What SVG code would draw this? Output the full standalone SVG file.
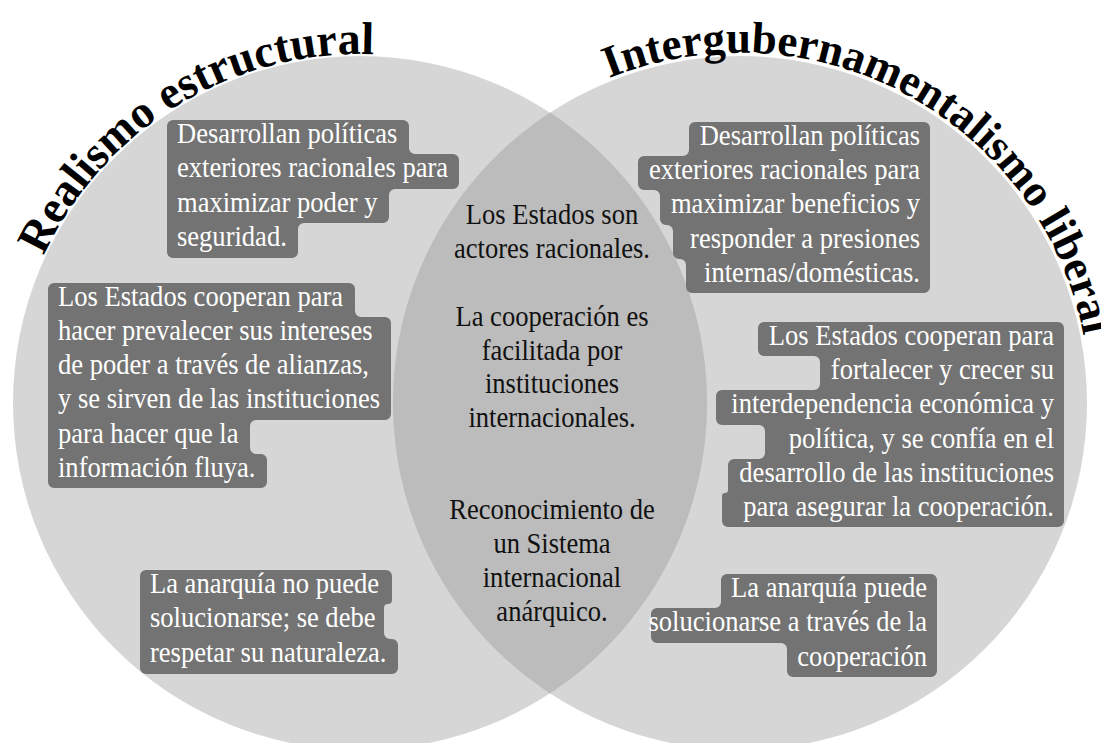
<svg xmlns="http://www.w3.org/2000/svg" width="1101" height="743" viewBox="0 0 1101 743">
<defs>
<style>
.circle{fill:#d6d6d6}
.lens{fill:#bcbcbc}
.box{fill:#737373}
.bt{font-family:"Liberation Serif","Times New Roman",serif;font-size:29.5px;fill:#ffffff}
.bt-r{text-anchor:end}
.lt{font-family:"Liberation Serif","Times New Roman",serif;font-size:29.5px;fill:#111111;text-anchor:middle}
.title{font-family:"Liberation Serif","Times New Roman",serif;font-weight:bold;fill:#000000}
</style>
<path id="arcL" d="M11.1,411.5 A349,349 0 0 1 527.1,96.6" fill="none"/>
<path id="arcR" d="M448.1,209.8 A350,350 0 0 1 1061,542.5" fill="none"/>
</defs>
<rect width="1101" height="743" fill="#ffffff"/>
<g id="venn">
<circle id="circle-left" class="circle" cx="360" cy="403" r="347"/>
<circle id="circle-right" class="circle" cx="740" cy="403" r="347"/>
<path id="lens" class="lens" d="M550,112.6 A347,347 0 0 1 550,693.4 A347,347 0 0 1 550,112.6 Z"/>
</g>
<g id="title-left">
<text class="title" font-size="46"><textPath href="#arcL" startOffset="50%" text-anchor="middle">Realismo estructural</textPath></text>
</g>
<g id="title-right">
<text class="title" font-size="45"><textPath href="#arcR" startOffset="50%" text-anchor="middle">Intergubernamentalismo liberal</textPath></text>
</g>
<g id="node-left-1">
<path class="box" d="M173,120 H403 A6,6 0 0 1 409,126 V148 A6,6 0 0 0 415,154 H453 A6,6 0 0 1 459,160 V183 A6,6 0 0 1 453,189 H395 A6,6 0 0 0 389,195 V217 A6,6 0 0 1 383,223 H304 A6,6 0 0 0 298,229 V252 A6,6 0 0 1 292,258 H173 A6,6 0 0 1 167,252 V126 A6,6 0 0 1 173,120 Z"/>
<text class="bt" transform="translate(177,0) scale(0.9,1)"><tspan x="0" y="143">Desarrollan políticas</tspan><tspan x="0" y="177">exteriores racionales para</tspan><tspan x="0" y="212">maximizar poder y</tspan><tspan x="0" y="246">seguridad.</tspan></text>
</g>
<g id="node-left-2">
<path class="box" d="M54,283 H349 A6,6 0 0 1 355,289 V311 A6,6 0 0 0 361,317 H385 A6,6 0 0 1 391,323 V414 A6,6 0 0 1 385,420 H256 A6,6 0 0 0 250,426 V448 A6,6 0 0 0 256,454 H261 A6,6 0 0 1 267,460 V482 A6,6 0 0 1 261,488 H54 A6,6 0 0 1 48,482 V289 A6,6 0 0 1 54,283 Z"/>
<text class="bt" transform="translate(58,0) scale(0.9,1)"><tspan x="0" y="306">Los Estados cooperan para</tspan><tspan x="0" y="340">hacer prevalecer sus intereses</tspan><tspan x="0" y="374">de poder a través de alianzas,</tspan><tspan x="0" y="408">y se sirven de las instituciones</tspan><tspan x="0" y="443">para hacer que la</tspan><tspan x="0" y="477">información fluya.</tspan></text>
</g>
<g id="node-left-3">
<path class="box" d="M146,570 H386 A6,6 0 0 1 392,576 V600 A4,4 0 0 1 388,604 A4,4 0 0 0 384,608 V633 A6,6 0 0 0 390,639 H392 A6,6 0 0 1 398,645 V668 A6,6 0 0 1 392,674 H146 A6,6 0 0 1 140,668 V576 A6,6 0 0 1 146,570 Z"/>
<text class="bt" transform="translate(150,0) scale(0.9,1)"><tspan x="0" y="593">La anarquía no puede</tspan><tspan x="0" y="627">solucionarse; se debe</tspan><tspan x="0" y="662">respetar su naturaleza.</tspan></text>
</g>
<g id="node-center">
<text class="lt" transform="translate(552,0) scale(0.9,1)"><tspan x="0" y="224">Los Estados son</tspan><tspan x="0" y="258">actores racionales.</tspan><tspan x="0" y="326">La cooperación es</tspan><tspan x="0" y="360">facilitada por</tspan><tspan x="0" y="393">instituciones</tspan><tspan x="0" y="427">internacionales.</tspan><tspan x="0" y="519">Reconocimiento de</tspan><tspan x="0" y="553">un Sistema</tspan><tspan x="0" y="587">internacional</tspan><tspan x="0" y="621">anárquico.</tspan></text>
</g>
<g id="node-right-1">
<path class="box" d="M695,122 H924 A6,6 0 0 1 930,128 V287 A6,6 0 0 1 924,293 H692 A6,6 0 0 1 686,287 V265 A6,6 0 0 0 680,259 H679 A6,6 0 0 1 673,253 V231 A6,6 0 0 0 667,225 H666 A6,6 0 0 1 660,219 V196 A6,6 0 0 0 654,190 H644 A6,6 0 0 1 638,184 V162 A6,6 0 0 1 644,156 H683 A6,6 0 0 0 689,150 V128 A6,6 0 0 1 695,122 Z"/>
<text class="bt bt-r" transform="translate(920,0) scale(0.9,1)"><tspan x="0" y="145">Desarrollan políticas</tspan><tspan x="0" y="179">exteriores racionales para</tspan><tspan x="0" y="213">maximizar beneficios y</tspan><tspan x="0" y="248">responder a presiones</tspan><tspan x="0" y="282">internas/domésticas.</tspan></text>
</g>
<g id="node-right-2">
<path class="box" d="M764,322 H1058 A6,6 0 0 1 1064,328 V521 A6,6 0 0 1 1058,527 H728 A6,6 0 0 1 722,521 V496 A3,3 0 0 1 725,493 A3,3 0 0 0 728,490 V465 A6,6 0 0 1 734,459 H759 A6,6 0 0 0 765,453 V431 A6,6 0 0 0 759,425 H722 A6,6 0 0 1 716,419 V396 A6,6 0 0 1 722,390 H814 A6,6 0 0 0 820,384 V362 A6,6 0 0 0 814,356 H764 A6,6 0 0 1 758,350 V328 A6,6 0 0 1 764,322 Z"/>
<text class="bt bt-r" transform="translate(1054,0) scale(0.9,1)"><tspan x="0" y="345">Los Estados cooperan para</tspan><tspan x="0" y="379">fortalecer y crecer su</tspan><tspan x="0" y="413">interdependencia económica y</tspan><tspan x="0" y="448">política, y se confía en el</tspan><tspan x="0" y="482">desarrollo de las instituciones</tspan><tspan x="0" y="516">para asegurar la cooperación.</tspan></text>
</g>
<g id="node-right-3">
<path class="box" d="M727,574 H931 A6,6 0 0 1 937,580 V671 A6,6 0 0 1 931,677 H793 A6,6 0 0 1 787,671 V649 A6,6 0 0 0 781,643 H657 A6,6 0 0 1 651,637 V614 A6,6 0 0 1 657,608 H715 A6,6 0 0 0 721,602 V580 A6,6 0 0 1 727,574 Z"/>
<text class="bt bt-r" transform="translate(927,0) scale(0.9,1)"><tspan x="0" y="597">La anarquía puede</tspan><tspan x="0" y="631">solucionarse a través de la</tspan><tspan x="0" y="666">cooperación</tspan></text>
</g>
<g id="connectors"/>
</svg>
